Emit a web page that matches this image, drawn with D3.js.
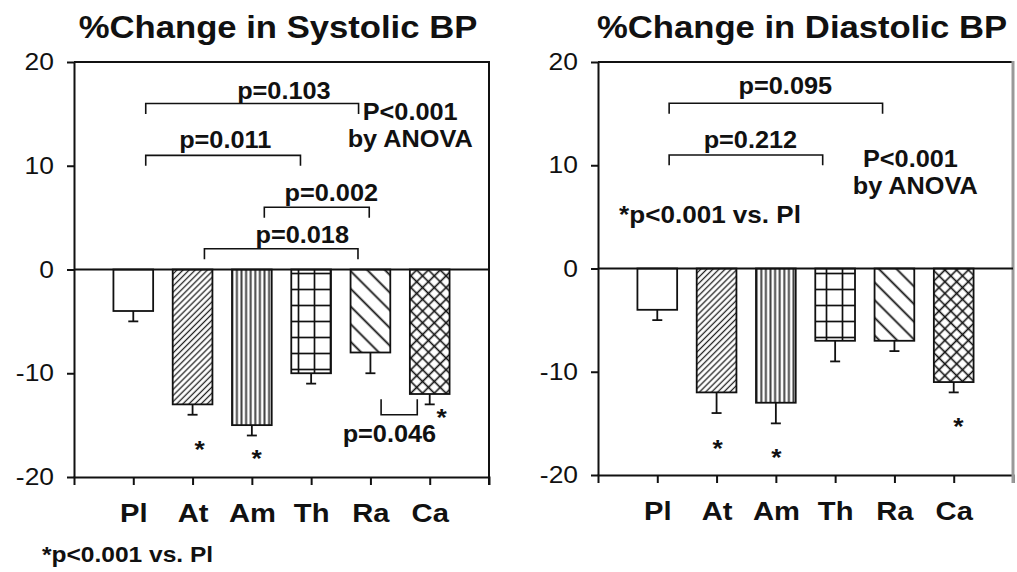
<!DOCTYPE html>
<html>
<head>
<meta charset="utf-8">
<script src="https://cdn.jsdelivr.net/npm/d3@7/dist/d3.min.js"></script>
<style>
  body { margin: 0; background: #fff; }
  svg { display: block; }
</style>
</head>
<body>
<svg id="chart" width="1017" height="572"></svg>
<script>
// values (% change, mean and lower end of the error bar)
const categories = ['Pl', 'At', 'Am', 'Th', 'Ra', 'Ca'];
const yTicks = [-20, -10, 0, 10, 20];

const systolicMean = [-4, -13, -15, -10, -8, -12];
const systolicErr = [-5, -14, -16, -11, -10, -13];
const diastolicMean = [-4, -12, -13, -7, -7, -11];
const diastolicErr = [-5, -14, -15, -9, -8, -12];

// brackets: from / to in category index units, y and leg end in data units
const systolicBrackets = [
  { from: 0.21, to: 3.8, y: 16, leg: 15, label: 'p=0.103', lx: 2.54, ly: 16.4 },
  { from: 0.21, to: 2.82, y: 11, leg: 10, label: 'p=0.011', lx: 1.55, ly: 11.7 },
  { from: 2.21, to: 3.98, y: 6, leg: 5, label: 'p=0.002', lx: 3.34, ly: 6.6 },
  { from: 1.2, to: 3.79, y: 2, leg: 1, label: 'p=0.018', lx: 2.85, ly: 2.55 },
  { from: 4.18, to: 4.79, y: -14, leg: -12.5, label: 'p=0.046', lx: 4.32, ly: -16.6 },
];
const diastolicBrackets = [
  { from: 0.2, to: 3.8, y: 16, leg: 15, label: 'p=0.095', lx: 2.16, ly: 16.9 },
  { from: 0.2, to: 2.79, y: 11, leg: 10, label: 'p=0.212', lx: 1.57, ly: 11.67 },
];

// significance stars: category index, data value
const systolicStars = [[1.12, -16.8], [2.08, -17.7], [5.2, -13.8]];
const diastolicStars = [[1.02, -16.9], [2.01, -17.8], [5.08, -14.8]];

// in-plot notes: text, category index, data value
const systolicNotes = [['P<0.001', 4.67, 14.4], ['by ANOVA', 4.67, 11.8]];
const diastolicNotes = [['P<0.001', 4.27, 9.8], ['by ANOVA', 4.35, 7.2], ['*p<0.001 vs. Pl', 0.89, 4.4]];

const FONT = "'Liberation Sans', Arial, Helvetica, sans-serif";
const STRETCH = 1.1; // the source lettering is a little wide

const svg = d3.select('#chart');
svg.append('rect').attr('width', 1017).attr('height', 572).attr('fill', '#fff');

const defs = svg.append('defs');

function addPattern(id, size, transform, lines, width, color) {
  const p = defs.append('pattern')
    .attr('id', id)
    .attr('patternUnits', 'userSpaceOnUse')
    .attr('width', size)
    .attr('height', size);
  if (transform) p.attr('patternTransform', transform);
  lines.forEach(l => {
    p.append('line')
      .attr('x1', l[0]).attr('y1', l[1]).attr('x2', l[2]).attr('y2', l[3])
      .attr('stroke', color)
      .attr('stroke-width', width);
  });
}

addPattern('p-fwd', 4.3, 'rotate(45)', [[2.15, 0, 2.15, 4.3]], 1.3, '#222');
addPattern('p-vert', 4.6, null, [[2.3, 0, 2.3, 4.6]], 2, '#444');
addPattern('p-grid', 16, null, [[10.5, 0, 10.5, 16], [0, 1.5, 16, 1.5]], 1.7, '#111');
addPattern('p-back', 12.5, 'rotate(-45)', [[6.25, 0, 6.25, 12.5]], 1.8, '#111');
addPattern('p-cross', 8.3, 'rotate(45)', [[4.15, 0, 4.15, 8.3], [0, 4.15, 8.3, 4.15]], 1.6, '#111');

const fills = ['#fff', 'url(#p-fwd)', 'url(#p-vert)', 'url(#p-grid)', 'url(#p-back)', 'url(#p-cross)'];

function text(g, x, y, str, size, weight, anchor) {
  return g.append('text')
    .attr('transform', `translate(${x},${y}) scale(${STRETCH},1)`)
    .attr('font-family', FONT)
    .attr('font-size', size)
    .attr('font-weight', weight)
    .attr('text-anchor', anchor)
    .attr('fill', '#111')
    .text(str);
}

function drawPanel(cfg) {
  const g = svg.append('g');

  const x = d3.scalePoint()
    .domain(categories)
    .range([cfg.x0, cfg.x1])
    .padding(1);
  const step = x.step();
  const xi = i => x(categories[0]) + i * step;
  const barW = step * 0.67;

  const y = d3.scaleLinear()
    .domain([-20, 20])
    .range([cfg.yBottom, cfg.yTop]);

  // title
  text(g, (cfg.x0 + cfg.x1) / 2 - 3.5, 37.5, cfg.title, cfg.titleSize, 'bold', 'middle');

  // bars
  g.selectAll('.bar')
    .data(cfg.mean)
    .enter().append('rect')
      .attr('class', 'bar')
      .attr('x', (d, i) => x(categories[i]) - barW / 2)
      .attr('y', y(0))
      .attr('width', barW)
      .attr('height', d => y(d) - y(0))
      .attr('fill', (d, i) => fills[i])
      .attr('stroke', '#111')
      .attr('stroke-width', 1.8);

  // error bars (lower side only)
  const err = g.selectAll('.err')
    .data(cfg.err)
    .enter().append('g')
      .attr('class', 'err')
      .attr('transform', (d, i) => `translate(${x(categories[i])},0)`);
  err.append('line')
    .attr('y1', (d, i) => y(cfg.mean[i]))
    .attr('y2', d => y(d))
    .attr('stroke', '#111')
    .attr('stroke-width', 1.8);
  err.append('line')
    .attr('x1', -5).attr('x2', 5)
    .attr('y1', d => y(d)).attr('y2', d => y(d))
    .attr('stroke', '#111')
    .attr('stroke-width', 1.8);

  // frame
  const yAxis = d3.axisLeft(y)
    .tickValues(yTicks)
    .tickSize(7)
    .tickSizeOuter(0)
    .tickPadding(11.2)
    .tickFormat(d => String(d));
  const ya = g.append('g')
    .attr('transform', `translate(${cfg.x0},0)`)
    .call(yAxis);

  const xAxis = d3.axisBottom(x)
    .tickSize(8)
    .tickSizeOuter(8)
    .tickPadding(18);
  const xa = g.append('g')
    .attr('transform', `translate(0,${y(-20)})`)
    .call(xAxis);

  [ya, xa].forEach(a => {
    a.selectAll('path, line').attr('stroke', '#111').attr('stroke-width', 2);
  });
  ya.selectAll('text')
    .attr('font-family', FONT)
    .attr('font-size', 24)
    .attr('fill', '#111')
    .attr('transform', `scale(${STRETCH},1)`);
  xa.selectAll('text')
    .attr('font-family', FONT)
    .attr('font-size', 26.5)
    .attr('font-weight', 'bold')
    .attr('fill', '#111')
    .attr('transform', `scale(${STRETCH},1)`);

  g.append('line')
    .attr('x1', cfg.x0).attr('x2', cfg.x1)
    .attr('y1', y(20)).attr('y2', y(20))
    .attr('stroke', '#111').attr('stroke-width', 2);
  g.append('line')
    .attr('x1', cfg.x1).attr('x2', cfg.x1)
    .attr('y1', y(20) - 1).attr('y2', y(-20) + 8)
    .attr('stroke', cfg.edgeColor).attr('stroke-width', cfg.edgeWidth);

  // zero line
  g.append('line')
    .attr('x1', cfg.x0).attr('x2', cfg.x1)
    .attr('y1', y(0)).attr('y2', y(0))
    .attr('stroke', '#111').attr('stroke-width', 2);

  // comparison brackets
  cfg.brackets.forEach(b => {
    g.append('path')
      .attr('d', `M${xi(b.from)},${y(b.leg)}V${y(b.y)}H${xi(b.to)}V${y(b.leg)}`)
      .attr('fill', 'none')
      .attr('stroke', '#111')
      .attr('stroke-width', 1.6);
    text(g, xi(b.lx), y(b.ly), b.label, 23, 'bold', 'middle');
  });

  cfg.stars.forEach(s => {
    text(g, xi(s[0]), y(s[1]) + 13.7, '*', 24, 'bold', 'middle');
  });

  cfg.notes.forEach(n => {
    text(g, xi(n[1]), y(n[2]), n[0], n[0].startsWith('*') ? 23.7 : 23, 'bold', 'middle');
  });
}

drawPanel({
  x0: 74, x1: 489, yTop: 62, yBottom: 477,
  title: '%Change in Systolic BP', titleSize: 31.5,
  mean: systolicMean, err: systolicErr,
  brackets: systolicBrackets, stars: systolicStars, notes: systolicNotes,
  edgeColor: '#111', edgeWidth: 2,
});

drawPanel({
  x0: 598, x1: 1013, yTop: 62, yBottom: 475,
  title: '%Change in Diastolic BP', titleSize: 31.5,
  mean: diastolicMean, err: diastolicErr,
  brackets: diastolicBrackets, stars: diastolicStars, notes: diastolicNotes,
  edgeColor: '#999', edgeWidth: 3,
});

// footnote under the left panel
text(svg, 42, 562, '*p<0.001 vs. Pl', 22.3, 'bold', 'start');
</script>
</body>
</html>
